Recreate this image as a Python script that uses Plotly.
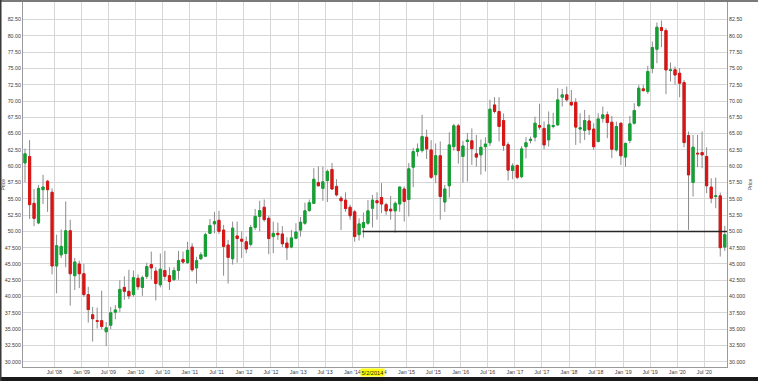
import pandas as pd
import plotly.graph_objects as go

# Monthly bars, Dec 2007 .. Nov 2020
months = pd.date_range("2007-12-01", "2020-11-01", freq="MS")

opens = [60.5, 61.5, 54.3, 51.3, 56.4, 57.7, 56.0, 44.7, 46.4, 46.6,
         50.1, 43.2, 45.0, 43.5, 40.3, 37.2, 36.3, 36.3, 34.6, 35.6,
         37.6, 38.3, 41.4, 40.8, 40.3, 42.8, 41.4, 43.1, 44.9, 43.9,
         41.8, 44.0, 43.2, 42.6, 44.0, 45.7, 45.2, 47.6, 44.4, 45.8,
         46.2, 49.7, 51.15, 51.7, 50.2, 47.9, 45.8, 49.3, 48.8, 48.4,
         48.0, 50.6, 52.3, 53.7, 52.0, 49.2, 49.7, 49.6, 48.2, 47.6,
         48.95, 50.2, 51.25, 53.2, 54.3, 57.5, 56.6, 57.8, 59.5, 56.9,
         55.1, 54.8, 53.7, 53.0, 49.5, 50.6, 51.25, 53.55, 54.7, 55.2,
         54.1, 53.4, 53.15, 54.2, 56.5, 54.9, 59.85, 62.25, 62.4, 64.45,
         62.5, 58.7, 61.6, 54.5, 57.0, 63.0, 66.2, 61.5, 63.8, 63.9,
         61.9, 61.74, 63.0, 63.6, 69.4, 68.4, 67.0, 63.3, 59.34, 60.1,
         58.4, 63.0, 63.94, 64.45, 66.24, 65.8, 64.04, 66.09, 66.34, 70.6,
         70.95, 69.8, 69.8, 65.7, 65.5, 66.95, 65.7, 63.8, 67.36, 67.9,
         66.75, 62.5, 66.6, 61.4, 63.94, 66.6, 69.3, 71.87, 71.46, 75.0,
         77.95, 81.28, 80.82, 74.68, 74.8, 74.27, 72.84, 64.7, 57.5, 62.0,
         62.1, 61.5, 56.8, 55.35, 55.45, 47.6]
highs = [62.7, 64.0, 56.5, 57.1, 58.7, 57.9, 56.6, 49.5, 50.3, 54.6,
         51.8, 45.9, 45.5, 45.0, 41.5, 38.4, 38.3, 40.9, 36.1, 38.4,
         38.7, 42.5, 43.1, 44.1, 44.0, 43.4, 43.2, 45.2, 46.9, 44.5,
         46.6, 47.0, 44.5, 44.5, 47.0, 46.9, 48.4, 48.2, 46.1, 46.8,
         49.8, 51.9, 53.0, 53.15, 51.0, 48.7, 51.5, 51.5, 50.0, 49.2,
         51.0, 53.45, 54.7, 54.9, 52.4, 51.5, 51.35, 50.8, 49.1, 50.2,
         51.25, 52.2, 54.4, 54.9, 59.7, 59.95, 59.95, 59.5, 60.5, 58.0,
         55.45, 56.0, 54.1, 53.3, 52.0, 52.9, 54.8, 55.6, 56.0, 57.4,
         54.4, 55.45, 54.6, 56.9, 56.9, 60.5, 62.8, 63.5, 67.9, 65.6,
         64.0, 63.5, 63.8, 57.1, 65.2, 66.5, 66.5, 63.9, 65.1, 65.8,
         64.8, 64.1, 64.45, 70.2, 70.6, 70.6, 68.1, 63.7, 60.46, 60.3,
         63.1, 64.45, 64.55, 67.6, 69.6, 66.85, 68.4, 68.2, 71.97, 71.87,
         72.23, 71.7, 70.43, 68.13, 68.64, 67.88, 66.6, 68.13, 69.16, 68.39,
         67.72, 66.85, 66.7, 63.63, 67.72, 69.67, 72.48, 72.48, 75.4, 79.13,
         82.05, 82.35, 81.18, 75.9, 75.3, 75.04, 73.25, 65.32, 64.8, 64.8,
         65.32, 62.91, 58.16, 58.26, 55.96, 50.85]
lows = [57.5, 51.9, 50.8, 51.1, 54.2, 53.0, 43.4, 40.5, 45.9, 44.5,
        38.6, 41.0, 41.3, 40.0, 36.0, 33.1, 35.1, 35.0, 32.4, 35.0,
        36.5, 37.6, 39.5, 39.6, 40.0, 41.0, 40.1, 42.7, 42.6, 39.4,
        41.4, 42.5, 41.0, 42.4, 42.6, 45.0, 45.0, 43.8, 42.0, 45.6,
        46.1, 49.6, 49.7, 49.6, 43.2, 42.0, 44.9, 45.2, 45.9, 46.65,
        47.7, 50.2, 50.0, 51.5, 46.5, 46.65, 48.7, 47.6, 45.6, 47.4,
        48.8, 49.2, 51.0, 53.0, 54.2, 56.9, 54.7, 54.5, 56.4, 55.35,
        50.2, 53.0, 51.8, 48.4, 48.6, 49.05, 51.0, 50.6, 51.8, 52.8,
        52.5, 51.8, 49.8, 53.0, 51.5, 52.3, 56.8, 61.5, 62.1, 61.1,
        58.05, 57.4, 51.8, 53.0, 55.2, 62.4, 60.4, 57.5, 57.65, 60.2,
        59.95, 58.7, 59.2, 63.1, 68.1, 63.8, 62.35, 57.8, 58.0, 58.0,
        58.16, 61.2, 63.5, 63.8, 65.6, 62.6, 63.0, 65.8, 66.19, 69.16,
        69.9, 69.26, 63.27, 63.53, 64.04, 64.8, 62.5, 63.63, 66.7, 64.3,
        61.23, 62.25, 60.2, 59.95, 63.53, 66.4, 69.05, 71.46, 71.1, 74.27,
        75.8, 78.26, 71.05, 73.0, 72.48, 70.59, 62.91, 50.23, 55.35, 59.85,
        59.69, 55.86, 54.32, 53.55, 46.14, 47.0]
closes = [61.9, 54.1, 52.0, 56.6, 56.8, 56.4, 44.7, 47.8, 47.7, 50.1,
          43.5, 45.3, 43.5, 40.3, 38.0, 36.6, 36.2, 35.4, 35.2, 37.5,
          37.95, 41.1, 40.8, 40.1, 42.9, 41.5, 42.9, 44.6, 44.4, 42.0,
          44.2, 43.1, 42.3, 44.0, 45.5, 45.3, 47.1, 44.1, 45.5, 46.4,
          49.5, 50.9, 51.5, 50.0, 47.7, 46.0, 50.5, 48.9, 48.5, 47.3,
          50.6, 52.3, 53.2, 51.8, 48.9, 49.7, 49.5, 48.1, 47.5, 49.0,
          49.9, 51.4, 53.15, 54.4, 58.0, 57.0, 57.6, 59.2, 56.5, 55.6,
          54.7, 53.5, 52.4, 49.2, 51.15, 51.35, 53.15, 54.8, 54.4, 54.2,
          53.15, 53.15, 54.3, 56.8, 54.6, 59.6, 62.25, 62.66, 64.55, 62.66,
          58.3, 61.6, 55.35, 56.5, 63.27, 66.2, 62.4, 63.1, 64.0, 62.7,
          61.4, 62.9, 63.4, 68.75, 68.4, 66.1, 63.2, 59.4, 60.05, 58.3,
          62.66, 63.6, 64.14, 66.6, 66.0, 63.27, 66.34, 66.24, 70.18, 70.95,
          70.2, 69.4, 66.0, 65.9, 67.0, 65.6, 63.0, 67.26, 67.88, 66.7,
          62.6, 66.1, 61.6, 63.5, 66.5, 68.54, 71.97, 71.6, 74.53, 78.21,
          81.33, 80.82, 74.78, 74.78, 74.0, 72.74, 63.63, 58.67, 62.91, 61.9,
          61.74, 57.0, 55.1, 55.45, 47.5, 49.5]

# axis ticks
x_tick_dates = pd.date_range("2008-07-01", "2020-07-01", freq="6MS")
x_tick_text = [("Jan '" if d.month == 1 else "Jul '") + d.strftime("%y") for d in x_tick_dates]
y_tick_vals = [30.0, 32.5, 35.0, 37.5, 40.0, 42.5, 45.0, 47.5, 50.0, 52.5, 55.0,
               57.5, 60.0, 62.5, 65.0, 67.5, 70.0, 72.5, 75.0, 77.5, 80.0, 82.5]
y_tick_text = ["30.000", "32.500", "35.000", "37.500", "40.000", "42.500", "45.000",
               "47.500", "50.00", "52.50", "55.00", "57.50", "60.00", "62.50", "65.00",
               "67.50", "70.00", "72.50", "75.00", "77.50", "80.00", "82.50"]

support_level = 50.0
support_start = "2014-03-10"
cursor_date = "2014-05-02"
cursor_label = "5/2/2014"
axis_title = "Price"

x_range = ["2007-12-03", "2020-12-01"]
y_range = [29.19, 85.2]

GREEN = "#12a232"
RED = "#dc1414"
WICK = "#8c8c8c"
GRID = "#d6d6d6"
FONT = "Liberation Sans"
TXT = "#3a3a3a"
FS = 5.3

body_hi = [max(o, c) for o, c in zip(opens, closes)]
body_lo = [min(o, c) for o, c in zip(opens, closes)]

fig = go.Figure()
# wicks
fig.add_trace(go.Candlestick(
    x=months, open=opens, high=highs, low=lows, close=closes,
    xperiod="M1", xperiodalignment="middle",
    increasing=dict(line=dict(color=WICK, width=1), fillcolor=WICK),
    decreasing=dict(line=dict(color=WICK, width=1), fillcolor=WICK),
    whiskerwidth=0, hoverinfo="skip", showlegend=False))
# bodies
fig.add_trace(go.Candlestick(
    x=months, open=opens, high=body_hi, low=body_lo, close=closes,
    xperiod="M1", xperiodalignment="middle",
    increasing=dict(line=dict(color=GREEN, width=1), fillcolor=GREEN),
    decreasing=dict(line=dict(color=RED, width=1), fillcolor=RED),
    whiskerwidth=0, showlegend=False))

fig.add_shape(type="line", xref="x", yref="y",
              x0=support_start, x1=x_range[1], y0=support_level, y1=support_level,
              line=dict(color="#262626", width=1.5))

fig.add_annotation(x=cursor_date, xref="x", y=0, yref="paper", yanchor="top",
                   yshift=-1, xshift=2, text=cursor_label, showarrow=False,
                   bgcolor="#ffff00", borderpad=0.5,
                   font=dict(family=FONT, size=5.6, color="#222"))

# left (clipped) axis title
fig.add_annotation(x=-0.0285, xref="paper", y=0.5, yref="paper", xanchor="center",
                   text=axis_title, textangle=-90, showarrow=False,
                   font=dict(family=FONT, size=5, color=TXT))

# frame decorations
fig.add_shape(type="rect", xref="paper", yref="paper", x0=-0.05, x1=1.06,
              y0=1.0, y1=1.02, fillcolor="#7a7a7a", line_width=0, layer="above")
fig.add_shape(type="rect", xref="paper", yref="paper", x0=-0.05, x1=1.06,
              y0=-0.06, y1=-0.0275, fillcolor="#1a1a1a", line_width=0, layer="above")
fig.add_shape(type="rect", xref="paper", yref="paper", x0=-0.0345, x1=-0.0305,
              y0=-0.06, y1=1.02, fillcolor="#3a3a3a", line_width=0, layer="above")

axis_common = dict(showgrid=True, gridcolor=GRID, gridwidth=1, zeroline=False,
                   tickfont=dict(family=FONT, size=FS, color=TXT))

fig.update_layout(
    width=758, height=381,
    margin=dict(l=23, r=31, t=2, b=14),
    paper_bgcolor="white", plot_bgcolor="white",
    xaxis=dict(type="date", range=x_range, tickvals=list(x_tick_dates), ticktext=x_tick_text,
               rangeslider=dict(visible=False), showline=True, linecolor="#9a9a9a",
               mirror=False, ticks="", ticklen=0, **axis_common),
    yaxis=dict(range=y_range, tickvals=y_tick_vals, ticktext=y_tick_text,
               showline=True, linecolor="#9a9a9a", ticks="", side="left", **axis_common),
    yaxis2=dict(range=y_range, tickvals=y_tick_vals, ticktext=y_tick_text,
                overlaying="y", side="right", showline=True, linecolor="#9a9a9a",
                ticks="", showgrid=False, zeroline=False,
                tickfont=dict(family=FONT, size=FS, color=TXT),
                title=dict(text=axis_title, font=dict(family=FONT, size=5, color=TXT), standoff=4)),
    showlegend=False,
)
fig.add_trace(go.Scatter(x=[months[0]], y=[y_range[0] - 10], yaxis="y2",
                         mode="markers", showlegend=False, hoverinfo="skip"))

fig.write_html("out.html")
